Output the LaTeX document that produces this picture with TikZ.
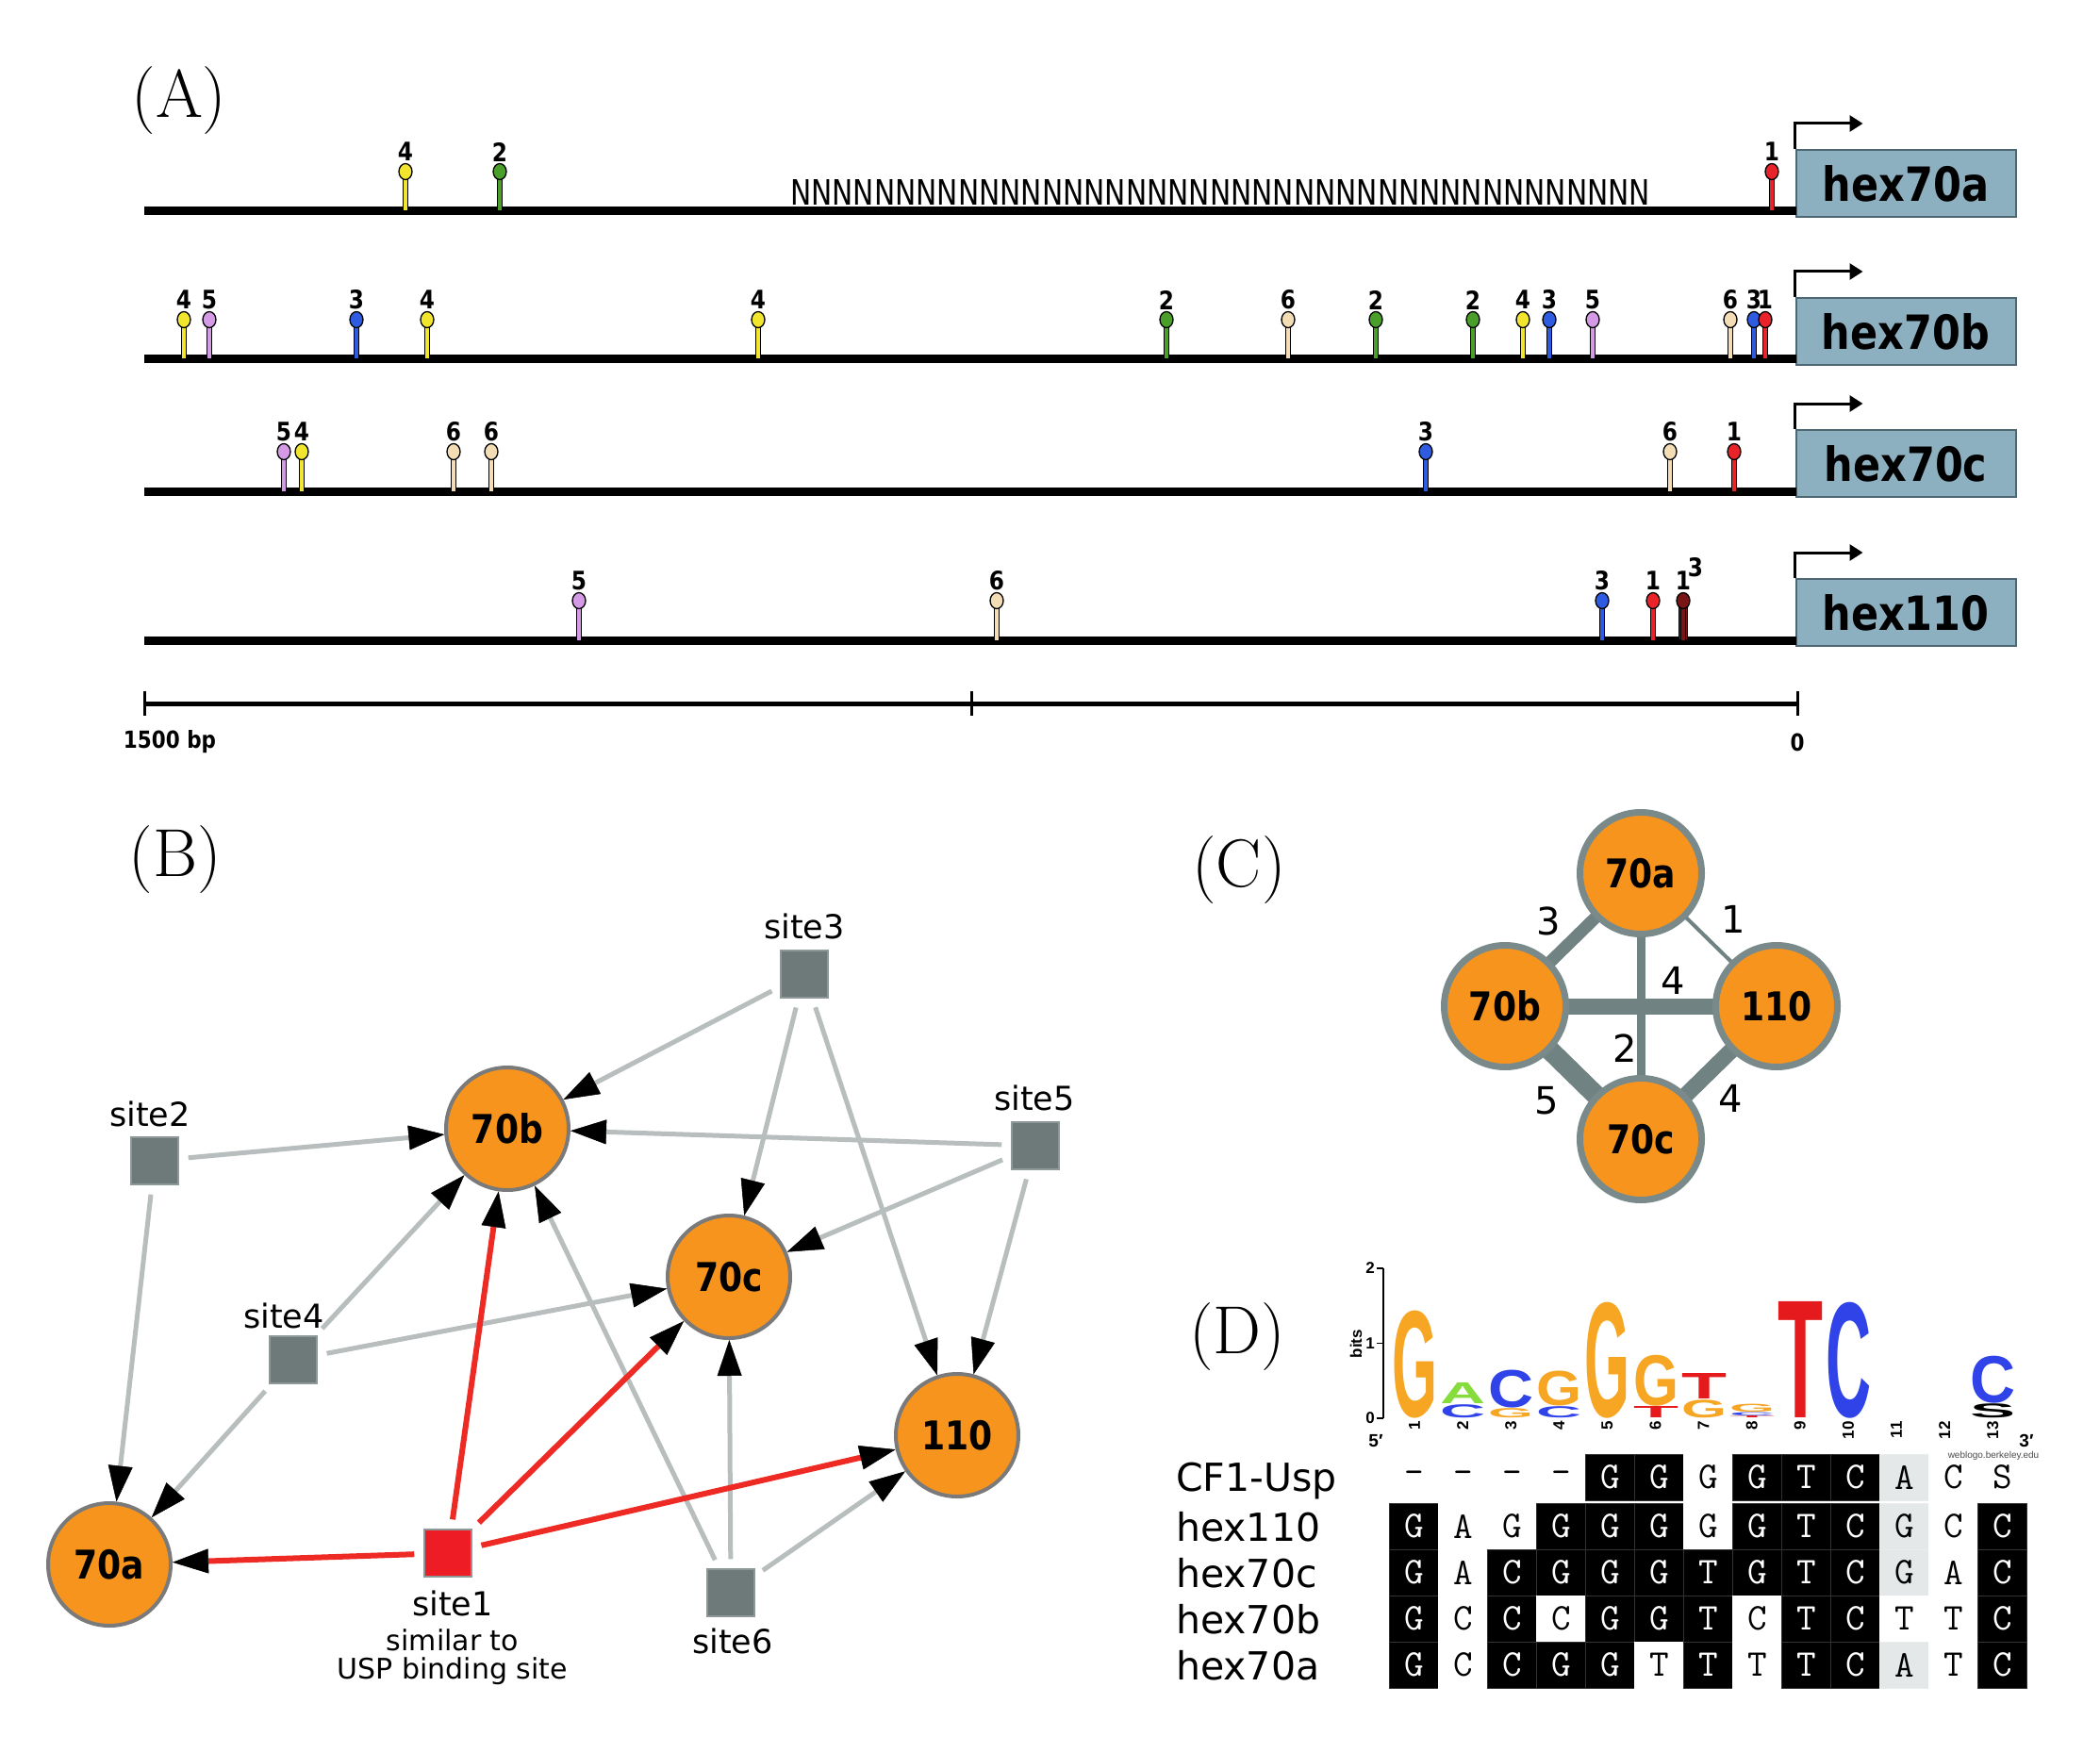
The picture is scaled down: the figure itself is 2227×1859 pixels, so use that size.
\documentclass[tikz,border=0pt]{standalone}
\usepackage{fontspec}
\usepackage{graphicx}
\usetikzlibrary{arrows.meta}
\newfontfamily\dvs{DejaVu Sans}
\newfontfamily\csans{DejaVu Sans}[FakeStretch=0.86]
\newfontfamily\lsans{Liberation Sans}
\newcommand{\fsz}[1]{\fontsize{#1}{#1}\selectfont}
\definecolor{cone}{HTML}{E8232A}
\definecolor{ctwo}{HTML}{4A9E2A}
\definecolor{cthree}{HTML}{2E5BE0}
\definecolor{cfour}{HTML}{F2E52E}
\definecolor{cfive}{HTML}{D59AE6}
\definecolor{csix}{HTML}{F3DDB5}
\definecolor{cdark}{HTML}{7A1515}
\definecolor{cbox}{HTML}{8DB0C1}
\definecolor{cboxd}{HTML}{4E6773}
\definecolor{corange}{HTML}{F7941D}
\definecolor{cborder}{HTML}{7A7A7A}
\definecolor{csite}{HTML}{6E7A7A}
\definecolor{csiteb}{HTML}{8E9898}
\definecolor{cgedge}{HTML}{B8BEBE}
\definecolor{credge}{HTML}{EE2A24}
\definecolor{cred}{HTML}{EE1C24}
\definecolor{ccborder}{HTML}{7A8A8A}
\definecolor{ccedge}{HTML}{708282}
\definecolor{cgray}{HTML}{E4E8E8}
\definecolor{lgor}{HTML}{F6A623}
\definecolor{lgbl}{HTML}{2F43E8}
\definecolor{lgrd}{HTML}{E41A1C}
\definecolor{lggr}{HTML}{86DC3C}
\tikzset{
  panel/.style={font=\fsz{72}, inner sep=0},
  pinlbl/.style={font=\csans\bfseries\fsz{27}, inner sep=0},
  genebox/.style={rectangle, fill=cbox, draw=cboxd, line width=2pt, minimum width=233pt, minimum height=71pt, inner sep=0, font=\csans\bfseries\fsz{50}},
  promo/.style={line width=3pt, -{Triangle[length=14pt,width=17pt]}},
  dna/.style={line width=9pt},
  orangecirc/.style={circle, fill=corange, draw=cborder, line width=4pt, minimum size=130pt, inner sep=0, font=\csans\bfseries\fsz{42}},
  sitebox/.style={rectangle, fill=csite, draw=csiteb, line width=1.5pt, minimum size=50pt, inner sep=0},
  sitelbl/.style={font=\dvs\fsz{35}, inner sep=0},
  smalllbl/.style={font=\dvs\fsz{30}, inner sep=0},
  gedge/.style={draw=cgedge, line width=5pt, shorten <=10pt, -{Triangle[length=38pt,width=26pt,color=black,line width=0.5pt]}},
  redge/.style={draw=credge, line width=6pt, shorten <=10pt, -{Triangle[length=38pt,width=26pt,color=black,line width=0.5pt]}},
  ccirc/.style={circle, fill=corange, draw=ccborder, line width=7pt, minimum size=129pt, inner sep=0, font=\csans\bfseries\fsz{42}},
  cedge/.style={draw=ccedge},
  clbl/.style={font=\dvs\fsz{40}, inner sep=0},
  rowlbl/.style={font=\dvs\fsz{41}, inner sep=0, anchor=base west},
  celltxt/.style={font=\ttfamily\fsz{40}, inner sep=0},
  axlbl/.style={font=\lsans\bfseries\fsz{17}, inner sep=0},
}
\newcommand{\sitepin}[4]{%
  \filldraw[fill=#3,draw=black,line width=1pt] (#1-2.5,#2) rectangle (#1+2.5,#2-36);
  \filldraw[fill=#3,draw=black,line width=1.3pt] (#1,#2-42) ellipse [x radius=7,y radius=8.5];
  \node[pinlbl] (pl#1x#2) at (#1,#2-63) {#4};}
\newcommand{\logoL}[5]{%
  \node[anchor=south, inner sep=0, text=#4] (lg#1y#2) at (#1,#2) {\resizebox*{48pt}{#3pt}{\lsans\bfseries #5}};}
\newcommand{\alncell}[5]{%
  \filldraw[fill=#3, draw=#3!80!white, line width=1pt] (1421.5+52*#1,#2) rectangle (1473.5+52*#1,#2+49);
  \node[celltxt, text=#4] (c#1r#2) at (1447.5+52*#1,#2+24.5) {#5};}
\begin{document}
\begin{tikzpicture}[x=1pt,y=-1pt]
\useasboundingbox (0,0) rectangle (2227,1859);
\fill[white] (0,0) rectangle (2227,1859);

% ---------------- (A)
\node[panel] (pA) at (190,107) {(A)};
\foreach \yy/\nm/\g in {224/hex70a/ga, 381/hex70b/gb, 521/hex70c/gc, 679/hex110/gd}{
  \node[genebox] (\g) at (2021,\yy-29.5) {\nm};
  \draw[dna] (153,\yy) -- (1905,\yy);
  \draw[promo] (\g.north west) -- ++(0,-27) -- ++(72,0);
}
\node[inner sep=0, anchor=south west] (nn) at (838,218) {\resizebox{912pt}{27pt}{\dvs\fsz{37}NNNNNNNNNNNNNNNNNNNNNNNNNNNNNNNNNNNNNNNNN}};
% row 1
\sitepin{430}{224}{cfour}{4}
\sitepin{530}{224}{ctwo}{2}
\sitepin{1879}{224}{cone}{1}
% row 2
\sitepin{195}{381}{cfour}{4}
\sitepin{222}{381}{cfive}{5}
\sitepin{378}{381}{cthree}{3}
\sitepin{453}{381}{cfour}{4}
\sitepin{804}{381}{cfour}{4}
\sitepin{1237}{381}{ctwo}{2}
\sitepin{1366}{381}{csix}{6}
\sitepin{1459}{381}{ctwo}{2}
\sitepin{1562}{381}{ctwo}{2}
\sitepin{1615}{381}{cfour}{4}
\sitepin{1643}{381}{cthree}{3}
\sitepin{1689}{381}{cfive}{5}
\sitepin{1835}{381}{csix}{6}
\sitepin{1860}{381}{cthree}{3}
\sitepin{1872}{381}{cone}{1}
% row 3
\sitepin{301}{521}{cfive}{5}
\sitepin{320}{521}{cfour}{4}
\sitepin{481}{521}{csix}{6}
\sitepin{521}{521}{csix}{6}
\sitepin{1512}{521}{cthree}{3}
\sitepin{1771}{521}{csix}{6}
\sitepin{1839}{521}{cone}{1}
% row 4
\sitepin{614}{679}{cfive}{5}
\sitepin{1057}{679}{csix}{6}
\sitepin{1699}{679}{cthree}{3}
\sitepin{1753}{679}{cone}{1}
\filldraw[fill=cdark,draw=black,line width=1.2pt] (1780.5,679) rectangle (1789.5,643);
\sitepin{1785}{679}{cdark}{1}
\node[pinlbl] (sup3) at (1798,602) {3};
% scale bar
\draw[line width=5pt] (153,746) -- (1906,746);
\foreach \xx in {153,1030,1906}{\draw[line width=3pt] (\xx,733) -- (\xx,759);}
\node[pinlbl, font=\csans\bfseries\fsz{25}] (bp1500) at (180,787) {1500 bp};
\node[pinlbl, font=\csans\bfseries\fsz{25}] (bp0) at (1906,787) {0};

% ---------------- (B)
\node[panel] (pB) at (186,912) {(B)};
\node[orangecirc] (b70b) at (538,1197) {70b};
\node[orangecirc] (b70c) at (773,1354) {70c};
\node[orangecirc] (b110) at (1015,1522) {110};
\node[orangecirc] (b70a) at (116,1659) {70a};
\node[sitebox] (s3) at (853,1033) {};
\node[sitebox] (s2) at (164,1231) {};
\node[sitebox] (s5) at (1098,1215) {};
\node[sitebox] (s4) at (311,1442) {};
\node[sitebox,fill=cred] (s1) at (475,1647) {};
\node[sitebox] (s6) at (775,1689) {};
\node[sitelbl] (l3) at (853,982) {site3};
\node[sitelbl] (l2) at (159,1181) {site2};
\node[sitelbl] (l5) at (1097,1164) {site5};
\node[sitelbl] (l4) at (301,1395) {site4};
\node[sitelbl] (l1) at (480,1700) {site1};
\node[smalllbl] (l1b) at (480,1739) {similar to};
\node[smalllbl, anchor=base] (l1c) at (480,1780) {USP binding site};
\node[sitelbl] (l6) at (777,1740) {site6};
\foreach \a/\b in {s3/b70b, s3/b70c, s3/b110, s2/b70b, s2/b70a, s5/b70b, s5/b70c, s5/b110, s4/b70b, s4/b70c, s4/b70a, s6/b70b, s6/b70c, s6/b110}{
  \draw[gedge] (\a) -- (\b);}
\foreach \b in {b70a, b70b, b70c, b110}{
  \draw[redge] (s1) -- (\b);}

% ---------------- (C)
\node[panel] (pC) at (1314,923) {(C)};
\coordinate (k1) at (1740,926);
\coordinate (k2) at (1596,1067);
\coordinate (k3) at (1884,1067);
\coordinate (k4) at (1740,1208);
\draw[cedge, line width=13pt] (k1) -- (k2);
\draw[cedge, line width=4pt] (k1) -- (k3);
\draw[cedge, line width=9pt] (k1) -- (k4);
\draw[cedge, line width=17pt] (k2) -- (k3);
\draw[cedge, line width=21pt] (k2) -- (k4);
\draw[cedge, line width=17pt] (k3) -- (k4);
\node[ccirc] (c70a) at (k1) {70a};
\node[ccirc] (c70b) at (k2) {70b};
\node[ccirc] (c110) at (k3) {110};
\node[ccirc] (c70c) at (k4) {70c};
\node[clbl] (w3) at (1642,977) {3};
\node[clbl] (w1) at (1838,975) {1};
\node[clbl] (w4a) at (1774,1040) {4};
\node[clbl] (w2) at (1723,1112) {2};
\node[clbl] (w5) at (1640,1167) {5};
\node[clbl] (w4b) at (1835,1165) {4};

% ---------------- (D)
\node[panel] (pD) at (1312,1418) {(D)};
\draw[line width=1.5pt] (1467,1345) -- (1467,1504);
\foreach \yy/\tk in {1345/2, 1424.5/1, 1504/0}{
  \draw[line width=1.5pt] (1460,\yy) -- (1467,\yy);
  \node[axlbl] (ax\tk) at (1453,\yy) {\tk};
}
\node[axlbl, rotate=90] (bits) at (1438,1425) {bits};
\logoL{1500}{1504}{114}{lgor}{G}
\logoL{1551}{1504}{14}{lgbl}{C}
\logoL{1551}{1489}{22}{lggr}{A}
\logoL{1602}{1504}{10}{lgor}{G}
\logoL{1602}{1493}{40}{lgbl}{C}
\logoL{1653}{1504}{12}{lgbl}{C}
\logoL{1653}{1491}{37}{lgor}{G}
\logoL{1704}{1504}{123}{lgor}{G}
\logoL{1756}{1504}{12}{lgrd}{T}
\logoL{1756}{1491}{54}{lgor}{G}
\logoL{1807}{1504}{19}{lgor}{G}
\logoL{1807}{1484}{27}{lgrd}{T}
\logoL{1858}{1504}{2}{lgrd}{T}
\logoL{1858}{1501.5}{3.5}{lgbl}{C}
\logoL{1858}{1497.5}{8.5}{lgor}{G}
\logoL{1909}{1504}{123}{lgrd}{T}
\logoL{1960}{1504}{123}{lgbl}{C}
\logoL{2113}{1504}{15}{black}{S}
\logoL{2113}{1488}{50}{lgbl}{C}
\foreach \k [count=\i from 0] in {1,...,13}{
  \node[axlbl, rotate=90, anchor=east] (cn\k) at (1500+51.1*\i,1507) {\k};}
\node[axlbl, font=\lsans\bfseries\fsz{19}] (five) at (1459,1528) {5′};
\node[axlbl, font=\lsans\bfseries\fsz{19}] (three) at (2149,1528) {3′};
\node[rowlbl] (rCF) at (1247,1581) {CF1-Usp};
\node[rowlbl] (r110) at (1247,1634) {hex110};
\node[rowlbl] (r70c) at (1247,1683) {hex70c};
\node[rowlbl] (r70b) at (1247,1732) {hex70b};
\node[rowlbl] (r70a) at (1247,1781) {hex70a};
\foreach \f/\tc/\lt [count=\cc] in {white/black/-,white/black/-,white/black/-,white/black/-,black/white/G,black/white/G,white/black/G,black/white/G,black/white/T,black/white/C,cgray/black/A,white/black/C,white/black/S}{
  \alncell{\cc}{1542}{\f}{\tc}{\lt}}
\foreach \f/\tc/\lt [count=\cc] in {black/white/G,white/black/A,white/black/G,black/white/G,black/white/G,black/white/G,white/black/G,black/white/G,black/white/T,black/white/C,cgray/black/G,white/black/C,black/white/C}{
  \alncell{\cc}{1594}{\f}{\tc}{\lt}}
\foreach \f/\tc/\lt [count=\cc] in {black/white/G,white/black/A,black/white/C,black/white/G,black/white/G,black/white/G,black/white/T,black/white/G,black/white/T,black/white/C,cgray/black/G,white/black/A,black/white/C}{
  \alncell{\cc}{1643}{\f}{\tc}{\lt}}
\foreach \f/\tc/\lt [count=\cc] in {black/white/G,white/black/C,black/white/C,white/black/C,black/white/G,black/white/G,black/white/T,white/black/C,black/white/T,black/white/C,white/black/T,white/black/T,black/white/C}{
  \alncell{\cc}{1692}{\f}{\tc}{\lt}}
\foreach \f/\tc/\lt [count=\cc] in {black/white/G,white/black/C,black/white/C,black/white/G,black/white/G,white/black/T,black/white/T,white/black/T,black/white/T,black/white/C,cgray/black/A,white/black/T,black/white/C}{
  \alncell{\cc}{1741}{\f}{\tc}{\lt}}
\node[inner sep=0, font=\lsans\fsz{10}, text=black!70] (wl) at (2114,1544) {weblogo.berkeley.edu};
\end{tikzpicture}
\end{document}
